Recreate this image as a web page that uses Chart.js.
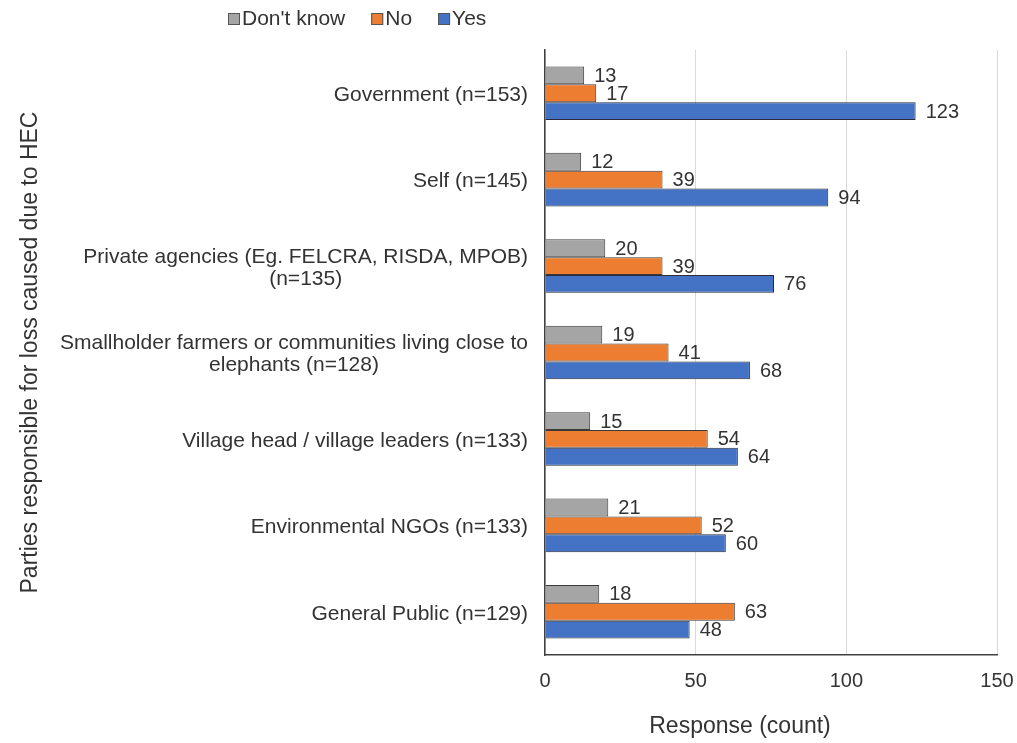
<!DOCTYPE html>
<html>
<head>
<meta charset="utf-8">
<script src="https://cdn.jsdelivr.net/npm/chart.js@4"></script>
<style>
  html, body { margin: 0; padding: 0; background: #fff; }
  #wrap { width: 1017px; height: 743px; }
</style>
</head>
<body>
<div id="wrap"><canvas id="myChart"></canvas></div>
<script>
// categories (multi-line labels as arrays)
var parties = [
  "Government (n=153)",
  "Self (n=145)",
  ["Private agencies (Eg. FELCRA, RISDA, MPOB)", "(n=135)"],
  ["Smallholder farmers or communities living close to", "elephants (n=128)"],
  "Village head / village leaders (n=133)",
  "Environmental NGOs (n=133)",
  "General Public (n=129)"
];
var dontKnow = [13, 12, 20, 19, 15, 21, 18];
var no = [17, 39, 39, 41, 54, 52, 63];
var yes = [123, 94, 76, 68, 64, 60, 48];
var xTicks = [0, 50, 100, 150];
var xTitle = "Response (count)";
var yTitle = "Parties responsible for loss caused due to HEC";

var FONT = "'Liberation Sans', Arial, sans-serif";
var txtColor = "#333";

// value labels at bar ends
var barLabels = {
  id: "barLabels",
  afterDatasetsDraw: function(chart) {
    var ctx = chart.ctx;
    ctx.save();
    ctx.font = "20px " + FONT;
    ctx.fillStyle = txtColor;
    ctx.textAlign = "left";
    ctx.textBaseline = "middle";
    chart.data.datasets.forEach(function(ds, i) {
      chart.getDatasetMeta(i).data.forEach(function(bar, j) {
        ctx.fillText(ds.data[j], bar.x + 10, bar.y + 1);
      });
    });
    ctx.restore();
  }
};

// category labels, lines centred on each other, block right aligned
var catLabels = {
  id: "catLabels",
  afterDraw: function(chart) {
    var ctx = chart.ctx;
    var y = chart.scales.y;
    var right = chart.chartArea.left - 17;
    ctx.save();
    ctx.font = "21px " + FONT;
    ctx.fillStyle = txtColor;
    ctx.textAlign = "center";
    ctx.textBaseline = "middle";
    parties.forEach(function(lab, i) {
      var lines = Array.isArray(lab) ? lab : [lab];
      var w = 0;
      lines.forEach(function(l) { w = Math.max(w, ctx.measureText(l).width); });
      var cy = y.getPixelForTick(i) + 2 - (lines.length - 1) * 11;
      lines.forEach(function(l, k) {
        ctx.fillText(l, right - w / 2, cy + k * 22);
      });
    });
    // x axis title, sits a bit left of the plot centre like the original
    ctx.font = "23px " + FONT;
    ctx.fillText(xTitle, chart.chartArea.left + 195, 727);
    ctx.restore();
  }
};

// legend drawn by hand so spacing matches
var topLegend = {
  id: "topLegend",
  afterDraw: function(chart) {
    var ctx = chart.ctx;
    var x = 228, cy = 19;
    ctx.save();
    ctx.font = "21px " + FONT;
    ctx.textBaseline = "middle";
    ctx.textAlign = "left";
    chart.data.datasets.forEach(function(ds) {
      ctx.fillStyle = ds.backgroundColor;
      ctx.fillRect(x, cy - 6, 12, 12);
      ctx.strokeStyle = "#555";
      ctx.lineWidth = 1;
      ctx.strokeRect(x + 0.5, cy - 5.5, 11, 11);
      ctx.fillStyle = txtColor;
      ctx.fillText(ds.label, x + 14, cy);
      x += 14 + ctx.measureText(ds.label).width + 26;
    });
    ctx.restore();
  }
};

var ctx = document.getElementById("myChart").getContext("2d");
var myChart = new Chart(ctx, {
  type: "bar",
  data: {
    labels: parties,
    datasets: [
      { label: "Don't know", data: dontKnow, backgroundColor: "#A5A5A5", borderColor: "#3a3a3a", borderWidth: 1 },
      { label: "No", data: no, backgroundColor: "#ED7D31", borderColor: "#3a3a3a", borderWidth: 1 },
      { label: "Yes", data: yes, backgroundColor: "#4472C4", borderColor: "#2a2a3a", borderWidth: 1 }
    ]
  },
  options: {
    indexAxis: "y",
    responsive: true,
    maintainAspectRatio: false,
    animation: false,
    layout: { padding: { top: 50, right: 20, left: 0, bottom: 0 } },
    categoryPercentage: 0.62,
    barPercentage: 1.0,
    plugins: {
      legend: { display: false },
      tooltip: { enabled: false }
    },
    scales: {
      x: {
        min: 0,
        max: 150,
        afterBuildTicks: function(s) {
          s.ticks = xTicks.map(function(v) { return { value: v }; });
        },
        afterFit: function(s) {
          s.height = 88;
          s.paddingLeft = 0;
          s.paddingRight = 0;
        },
        grid: { color: "#d9d9d9", drawTicks: false },
        border: { color: "#404040", width: 1.5 },
        ticks: { color: txtColor, font: { size: 20, family: FONT }, padding: 14 },
        title: { display: false }
      },
      y: {
        afterFit: function(s) { s.width = 545; },
        grid: { display: false },
        border: { color: "#404040", width: 1.5 },
        ticks: { color: "transparent", font: { size: 21, family: FONT } },
        title: {
          display: true,
          text: yTitle,
          color: txtColor,
          font: { size: 23, family: FONT },
          padding: { top: 17, bottom: 17 }
        }
      }
    }
  },
  plugins: [barLabels, catLabels, topLegend]
});
</script>
</body>
</html>
